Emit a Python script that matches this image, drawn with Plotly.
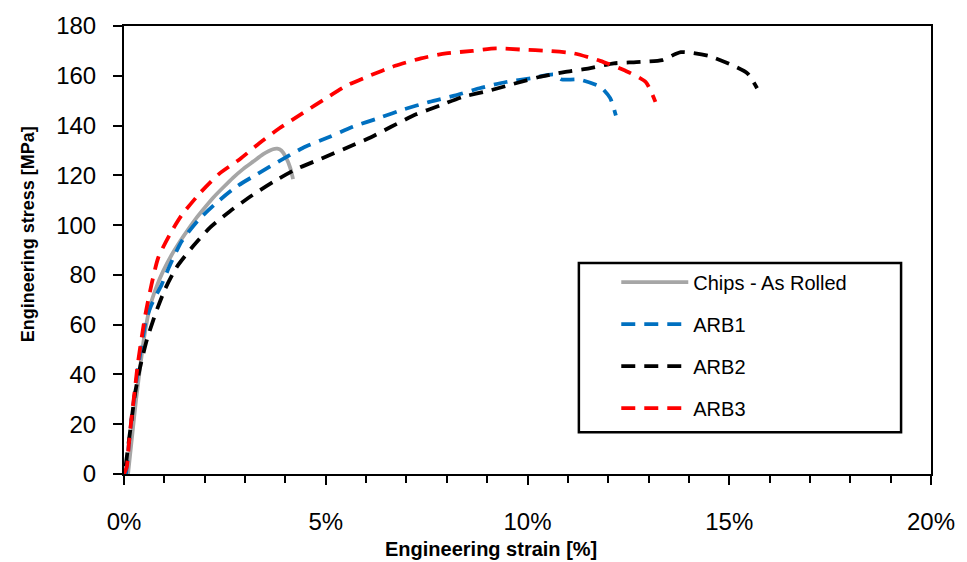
import plotly.graph_objects as go

# ---- data (strain in %, stress in MPa) ----
chips_strain = [0.10, 0.20, 0.30, 0.40, 0.50, 0.64, 0.80, 0.97, 1.18, 1.39, 1.60, 1.80, 2.00, 2.21, 2.45, 2.70, 2.95, 3.20, 3.45, 3.69, 3.80, 3.90, 4.02, 4.12, 4.19]
chips_stress = [0, 15, 30, 43, 55, 67, 75, 81.5, 88, 93.5, 98.5, 103, 107, 111, 115, 119, 122.5, 125.5, 128.5, 130.5, 130.7, 130, 127, 123, 118.5]

arb1_strain = [0.05, 0.12, 0.20, 0.28, 0.36, 0.45, 0.55, 0.68, 0.93, 1.14, 1.43, 1.84, 2.33, 2.79, 3.30, 3.88, 4.43, 5.10, 5.67, 6.35, 6.93, 7.57, 8.19, 8.81, 9.47, 10.08, 10.66, 10.85, 11.28, 11.81, 12.05, 12.19]
arb1_stress = [0, 12, 24, 34, 44, 53, 62, 68, 76, 84, 93.5, 102, 109.5, 115.5, 120.5, 126, 131, 135.5, 139.5, 143.2, 146.5, 149.5, 152, 155, 157.5, 159, 160.5, 158.5, 158.5, 155.5, 151, 144]

arb2_strain = [0.04, 0.11, 0.19, 0.27, 0.40, 0.56, 0.77, 1.01, 1.30, 1.71, 2.13, 2.62, 3.18, 3.71, 4.27, 4.93, 5.51, 6.08, 6.62, 7.24, 7.82, 8.39, 9.05, 9.71, 10.29, 10.91, 11.53, 12.14, 12.70, 13.34, 13.80, 14.49, 15.11, 15.45, 15.69]
arb2_stress = [3, 12, 22, 32, 43, 53.5, 64, 74, 83, 91.5, 99, 105.5, 112, 117.5, 122.5, 127, 131, 135, 139.5, 144.5, 148, 151.5, 154, 157, 159.5, 161.5, 163, 165, 165.5, 166.3, 169.5, 168, 164, 161, 155]

arb3_strain = [0.0, 0.07, 0.12, 0.19, 0.27, 0.34, 0.44, 0.54, 0.68, 0.85, 1.18, 1.43, 1.90, 2.35, 2.87, 3.36, 3.86, 4.43, 5.01, 5.51, 6.08, 6.72, 7.36, 7.98, 8.64, 9.22, 9.88, 10.50, 11.15, 11.80, 12.43, 12.93, 13.17]
arb3_stress = [0, 3, 12, 23, 34, 44, 55, 65, 76, 87, 97.5, 104, 113.2, 120.5, 126.5, 133, 139, 145, 151, 156, 160, 164, 167, 169, 170, 171, 170.5, 170, 169, 166, 162, 157.5, 149.5]

series_names = ["Chips - As Rolled", "ARB1", "ARB2", "ARB3"]

x_tickvals = [0, 5, 10, 15, 20]
x_ticktext = ["0%", "5%", "10%", "15%", "20%"]
y_tickvals = [0, 20, 40, 60, 80, 100, 120, 140, 160, 180]

FONT = "Liberation Sans, Arial, sans-serif"

fig = go.Figure()
specs = [
    (chips_strain, chips_stress, series_names[0], "#A6A6A6", "solid"),
    (arb1_strain, arb1_stress, series_names[1], "#0070C0", "14px,9px"),
    (arb2_strain, arb2_stress, series_names[2], "#000000", "14px,9px"),
    (arb3_strain, arb3_stress, series_names[3], "#FF0000", "14px,9px"),
]
for i, (xs, ys, name, color, dash) in enumerate(specs):
    fig.add_trace(go.Scatter(
        x=xs, y=ys, name=name, mode="lines",
        line=dict(color=color, width=3.8, dash=dash, shape="spline", smoothing=0.6),
        legendgroup=f"g{i}",
    ))

fig.update_layout(
    width=967, height=562,
    margin=dict(l=124, r=34, t=24, b=88),
    paper_bgcolor="white", plot_bgcolor="white",
    font=dict(family=FONT, size=20, color="#000000"),
    showlegend=True,
    legend=dict(
        x=0.610, y=0.472, xanchor="left", yanchor="top",
        bgcolor="rgba(0,0,0,0)", borderwidth=0,
        font=dict(family=FONT, size=20, color="#000000"),
        traceorder="grouped", tracegroupgap=13, itemwidth=67,
    ),
    xaxis=dict(
        range=[0, 20], tickvals=x_tickvals, ticktext=x_ticktext,
        showgrid=False, zeroline=False,
        showline=True, linecolor="black", linewidth=2, mirror=True,
        ticks="outside", ticklen=9, tickwidth=1.5, tickcolor="black",
        minor=dict(dtick=1, ticks="outside", ticklen=7, tickwidth=1.5, tickcolor="black"),
        ticklabelstandoff=16,
        tickfont=dict(family=FONT, size=24),
    ),
    yaxis=dict(
        range=[0, 180], tickvals=y_tickvals,
        showgrid=False, zeroline=False,
        showline=True, linecolor="black", linewidth=2, mirror=True,
        ticks="outside", ticklen=9, tickwidth=1.5, tickcolor="black",
        ticklabelstandoff=12,
        tickfont=dict(family=FONT, size=24),
    ),
    shapes=[dict(type="rect", xref="paper", yref="paper",
                 x0=(580 - 124) / 809, x1=(903 - 124) / 809,
                 y0=(474 - 432) / 450, y1=(474 - 262) / 450,
                 line=dict(color="black", width=2.5), fillcolor="rgba(0,0,0,0)")],
    annotations=[
        dict(text="<b>Engineering strain [%]</b>", xref="paper", yref="paper",
             x=(492 - 124) / 809, y=(474 - 549) / 450, xanchor="center", yanchor="middle",
             showarrow=False, font=dict(family="Liberation Sans Narrow, Arial Narrow, sans-serif", size=20)),
        dict(text="<b>Engineering stress [MPa]</b>", xref="paper", yref="paper",
             x=(28 - 124) / 809, y=(474 - 233) / 450, xanchor="center", yanchor="middle",
             textangle=-90, showarrow=False, font=dict(family=FONT, size=18)),
    ],
)

fig.write_html("out.html", config={"displayModeBar": False},
               post_script="document.body.style.margin='0';")
